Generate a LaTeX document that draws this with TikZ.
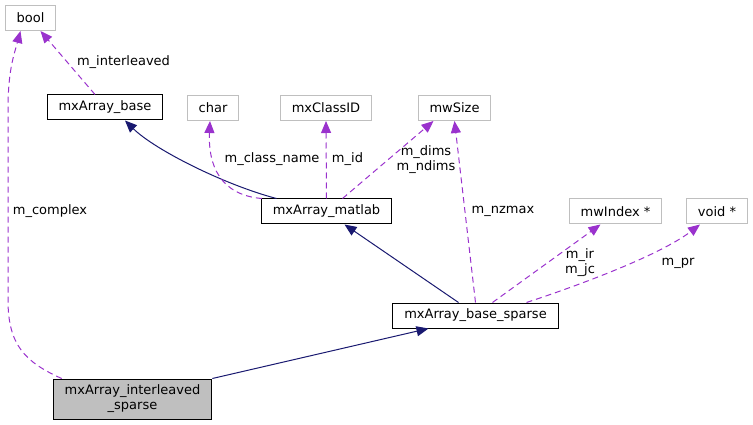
\documentclass[tikz,border=0pt]{standalone}
\usepackage{fontspec}
\setmainfont{DejaVu Sans}
\usetikzlibrary{arrows.meta}

\definecolor{edgepurple}{HTML}{9A32CD}
\definecolor{inhnavy}{HTML}{191970}
\definecolor{boxgrey}{HTML}{BFBFBF}

\begin{document}
\begin{tikzpicture}[
    x=1pt, y=-1pt,
    every node/.style={font=\fontsize{13}{15}\selectfont},
    classbox/.style={rectangle, draw=black, line width=1pt, minimum height=25pt, inner xsep=11.5pt, inner ysep=0pt},
    typebox/.style={rectangle, draw=boxgrey, line width=1pt, minimum height=25pt, inner xsep=11.5pt, inner ysep=0pt},
    lbl/.style={align=center, inner sep=0pt},
    usage/.style={-{Triangle[length=12pt, width=10pt]}, edgepurple, line width=1pt, dash pattern=on 6pt off 4pt},
    inherit/.style={-{Triangle[length=12pt, width=10pt]}, inhnavy, line width=1pt}
]
\useasboundingbox (0,0) rectangle (753,425);

\node[typebox] (bool) at (30.5,18) {bool};
\node[classbox] (base) at (105,107.5) {mxArray\_base};
\node[typebox] (char) at (213,108) {char};
\node[typebox] (classid) at (326,108) {mxClassID};
\node[typebox] (mwsize) at (454.5,108) {mwSize};
\node[classbox] (matlab) at (326.5,211.5) {mxArray\_matlab};
\node[typebox] (mwindex) at (615.5,211.5) {mwIndex *};
\node[typebox] (voidp) at (717,211.5) {void *};
\node[classbox] (sparse) at (475.5,315.5) {mxArray\_base\_sparse};
\node[classbox, fill=boxgrey, minimum height=40pt, align=center] (inter) at (132.5,399) {mxArray\_interleaved\\\_sparse};

% inheritance
\draw[inherit] ([xshift=-50pt]matlab.north) .. controls (225,185) and (155,150) .. ([xshift=20pt]base.south);
\draw[inherit] ([xshift=-17pt]sparse.north) -- ([xshift=18pt]matlab.south);
\draw[inherit] (inter.north east) -- ([xshift=-47pt]sparse.south);

% members
\draw[usage] ([xshift=-10pt]base.north) -- ([xshift=10pt]bool.south);
\draw[usage] ([xshift=9pt]inter.north west) .. controls (25,362) and (8,345) .. (8,300) -- (8,110) .. controls (8,70) and (14,55) .. ([xshift=-10pt]bool.south);
\draw[usage] ([xshift=1pt]matlab.north west) .. controls (220,195) and (208,165) .. ([xshift=-3pt]char.south);
\draw[usage] (matlab.north) -- (classid.south);
\draw[usage] ([xshift=16pt]matlab.north) -- ([xshift=-21pt]mwsize.south);
\draw[usage] (sparse.north) -- (mwsize.south);
\draw[usage] ([xshift=17pt]sparse.north) -- ([xshift=-15pt]mwindex.south);
\draw[usage] ([xshift=51pt]sparse.north) .. controls (580,285) and (660,255) .. ([xshift=-17pt]voidp.south);

\node[lbl] (l_inter) at (123.5,62) {m\_interleaved};
\node[lbl] (l_complex) at (50,211) {m\_complex};
\node[lbl] (l_class) at (272,159) {m\_class\_name};
\node[lbl] (l_id) at (347.5,159) {m\_id};
\node[lbl] (l_dims) at (426,159.5) {m\_dims\\m\_ndims};
\node[lbl] (l_nzmax) at (503,211) {m\_nzmax};
\node[lbl] (l_irjc) at (580,263) {m\_ir\\m\_jc};
\node[lbl] (l_pr) at (678,263) {m\_pr};
\end{tikzpicture}
\end{document}
